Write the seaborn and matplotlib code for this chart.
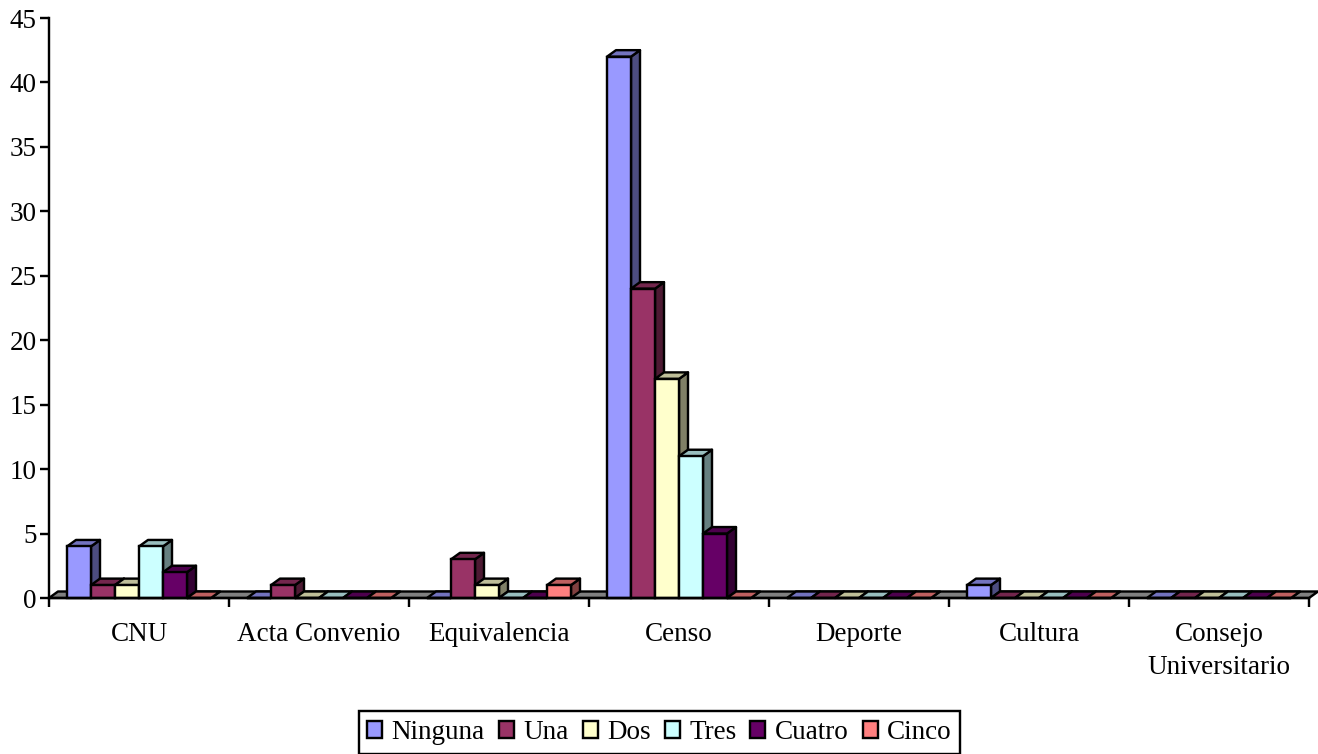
import seaborn as sns
import pandas as pd
import matplotlib.pyplot as plt
from matplotlib.colors import to_rgb
from matplotlib.patches import Patch, Polygon

categories = ["CNU", "Acta Convenio", "Equivalencia", "Censo", "Deporte", "Cultura", "Consejo\nUniversitario"]
ninguna = [4, 0, 0, 42, 0, 1, 0]
una = [1, 1, 3, 24, 0, 0, 0]
dos = [1, 0, 1, 17, 0, 0, 0]
tres = [4, 0, 0, 11, 0, 0, 0]
cuatro = [2, 0, 0, 5, 0, 0, 0]
cinco = [0, 0, 1, 0, 0, 0, 0]
series_names = ["Ninguna", "Una", "Dos", "Tres", "Cuatro", "Cinco"]
colors = ["#9999FF", "#993366", "#FFFFCC", "#CCFFFF", "#660066", "#FF8080"]
y_ticks = list(range(0, 50, 5))

df = pd.DataFrame({"categoria": categories, "Ninguna": ninguna, "Una": una, "Dos": dos,
                   "Tres": tres, "Cuatro": cuatro, "Cinco": cinco})
long_df = df.melt(id_vars="categoria", var_name="serie", value_name="valor")

sns.set_theme(style="white")
plt.rcParams["font.family"] = ["Liberation Serif", "DejaVu Serif"]

W, H = 1318, 754
fig = plt.figure(figsize=(W / 100, H / 100), dpi=100)
ax = fig.add_axes([49 / W, 1 - 598 / H, 1260 / W, 580 / H])

sns.barplot(data=long_df, x="categoria", y="valor", hue="serie", hue_order=series_names,
            palette=colors, saturation=1, width=0.8, legend=False, ax=ax)

ax.set_xlim(-0.5, 6.5)
ax.set_ylim(0, 45)

# fake 3d depth, in data units
dx = 9 / 180
dy = 6.5 / (580 / 45)
edge = 2.4 * 0.72
font_size = 19.5


def face(points, color, z):
    ax.add_patch(Polygon(points, closed=True, facecolor=color, edgecolor="black",
                         linewidth=edge, joinstyle="round", clip_on=False, zorder=z))


def shade(color, k):
    return tuple(c * k for c in to_rgb(color))


bars = sorted(ax.patches, key=lambda p: p.get_x())

# floor
face([(-0.5, 0), (6.5, 0), (6.5 + dx, dy), (-0.5 + dx, dy)], "#808080", 1.5)

z = 2
for bar in bars:
    x0 = bar.get_x()
    x1 = x0 + bar.get_width()
    h = bar.get_height()
    col = bar.get_facecolor()
    face([(x1, 0), (x1 + dx, dy), (x1 + dx, h + dy), (x1, h)], shade(col, 0.5), z)
    face([(x0, h), (x1, h), (x1 + dx, h + dy), (x0 + dx, h + dy)], shade(col, 0.75), z + 0.1)
    bar.set_edgecolor("black")
    bar.set_linewidth(edge)
    bar.set_clip_on(False)
    bar.set_zorder(z + 0.2)
    z += 1

sns.despine(ax=ax)
for s in ["left", "bottom"]:
    ax.spines[s].set_linewidth(edge)
    ax.spines[s].set_color("black")
    ax.spines[s].set_zorder(z + 1)

ax.set_xlabel("")
ax.set_ylabel("")
ax.set_yticks(y_ticks)
ax.tick_params(axis="y", left=True, length=6.5, width=edge, color="black", labelsize=font_size,
               labelcolor="black", pad=2.5)
ax.set_xticks([i - 0.5 for i in range(len(categories) + 1)])
ax.set_xticklabels([])
ax.set_xticks(range(len(categories)), labels=categories, minor=True)
ax.tick_params(axis="x", which="major", bottom=True, length=6.5, width=edge, color="black")
ax.tick_params(axis="x", which="minor", bottom=False, labelsize=font_size, labelcolor="black", pad=13)
for label in ax.get_xticklabels(minor=True):
    label.set_linespacing(1.42)

handles = [Patch(facecolor=c, edgecolor="black", linewidth=edge, label=n)
           for n, c in zip(series_names, colors)]
leg = fig.legend(handles=handles, ncols=6, loc="center", bbox_to_anchor=(659.5 / W, 1 - 732.5 / H),
                 fontsize=font_size, frameon=True, fancybox=False, edgecolor="black", framealpha=1,
                 handlelength=0.55, handleheight=0.55, handletextpad=0.35, columnspacing=0.52,
                 borderpad=0.32, borderaxespad=0)
leg.get_frame().set_linewidth(edge)
for t in leg.get_texts():
    t.set_color("black")

fig.savefig("out.png", dpi=100)
